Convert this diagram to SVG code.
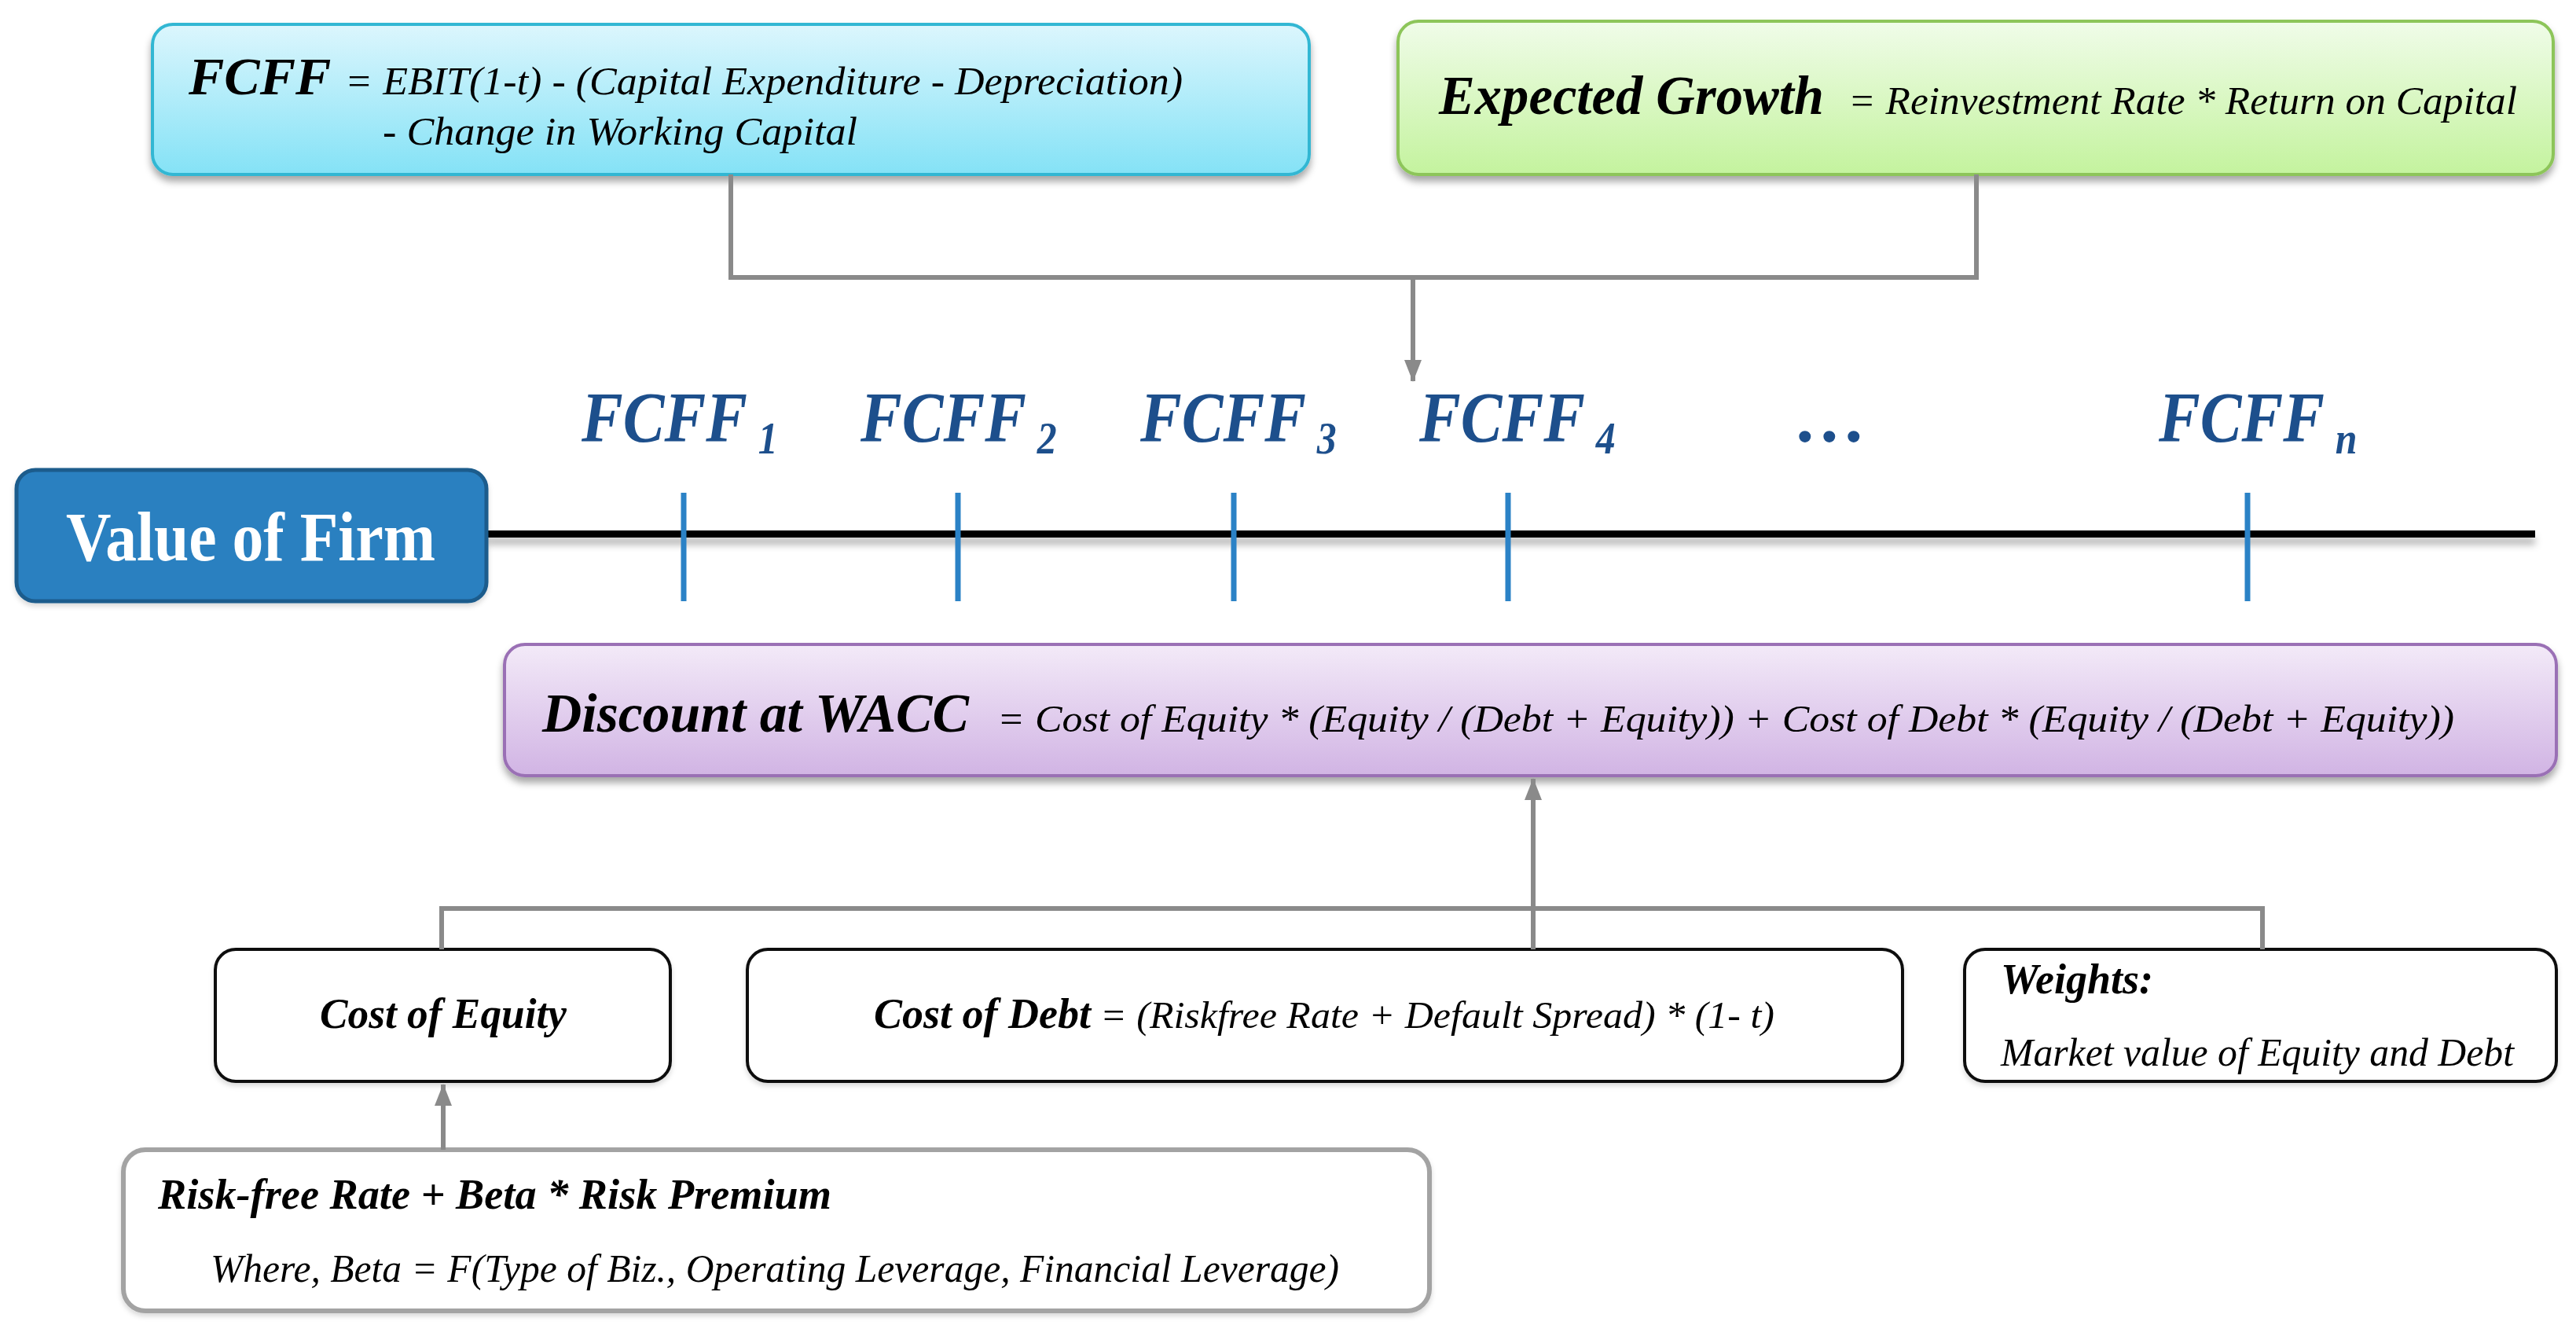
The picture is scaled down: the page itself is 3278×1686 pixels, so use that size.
<svg xmlns="http://www.w3.org/2000/svg" width="3278" height="1686" viewBox="0 0 3278 1686">
<defs>
<linearGradient id="gCyan" x1="0" y1="0" x2="0" y2="1"><stop offset="0" stop-color="#dcf6fd"/><stop offset="1" stop-color="#84e2f6"/></linearGradient>
<linearGradient id="gGreen" x1="0" y1="0" x2="0" y2="1"><stop offset="0" stop-color="#f0fce9"/><stop offset="1" stop-color="#c4f39e"/></linearGradient>
<linearGradient id="gPurple" x1="0" y1="0" x2="0" y2="1"><stop offset="0" stop-color="#f3eaf8"/><stop offset="1" stop-color="#d1b4e4"/></linearGradient>
<filter id="shadow" x="-5%" y="-20%" width="110%" height="150%"><feDropShadow dx="0" dy="7" stdDeviation="5" flood-color="#000" flood-opacity="0.35"/></filter>
<filter id="shadowS" x="-5%" y="-20%" width="110%" height="150%"><feDropShadow dx="0" dy="4" stdDeviation="3" flood-color="#000" flood-opacity="0.15"/></filter>
<filter id="lineShadow" filterUnits="userSpaceOnUse" x="600" y="660" width="2650" height="60"><feDropShadow dx="0" dy="9" stdDeviation="5" flood-color="#000" flood-opacity="0.3"/></filter>
<marker id="arrow" viewBox="0 0 28 22" refX="27" refY="11" markerWidth="28" markerHeight="22" markerUnits="userSpaceOnUse" orient="auto"><path d="M0,0 L28,11 L0,22 z" fill="#8a8a8a"/></marker>
<style>
.serif{font-family:"Liberation Serif","Times New Roman",serif;}
.bi{font-family:"Liberation Serif","Times New Roman",serif;font-weight:bold;font-style:italic;fill:#000;}
.it{font-family:"Liberation Serif","Times New Roman",serif;font-style:italic;fill:#000;}
.lbl{font-family:"Liberation Serif","Times New Roman",serif;font-weight:bold;font-style:italic;fill:#1d4f8c;font-size:92px;}
.sub{font-size:58px;}
.conn{fill:none;stroke:#8a8a8a;stroke-width:6;}
.tick{stroke:#2b82c6;stroke-width:7;}
.wbox{fill:#fff;stroke:#111;stroke-width:4;}
</style>
</defs>
<rect width="3278" height="1686" fill="#fff"/>

<g id="node-fcff">
<rect x="194" y="31" width="1472" height="191" rx="26" fill="url(#gCyan)" stroke="#31b7d3" stroke-width="4" filter="url(#shadow)"/>
<text class="bi" x="240" y="120" font-size="68">FCFF</text>
<text class="it" x="439" y="120" font-size="51" textLength="1066" lengthAdjust="spacingAndGlyphs">= EBIT(1-t)  - (Capital Expenditure - Depreciation)</text>
<text class="it" x="487" y="184" font-size="51" textLength="604" lengthAdjust="spacingAndGlyphs">- Change in Working Capital</text>
</g>

<g id="node-growth">
<rect x="1779" y="27" width="1470" height="195" rx="26" fill="url(#gGreen)" stroke="#8dc55a" stroke-width="4" filter="url(#shadow)"/>
<text class="bi" x="1831" y="145" font-size="70" textLength="490" lengthAdjust="spacingAndGlyphs">Expected Growth</text>
<text class="it" x="2352" y="145" font-size="51" textLength="851" lengthAdjust="spacingAndGlyphs">= Reinvestment Rate * Return on Capital</text>
</g>

<g id="timeline">
<rect x="619" y="675" width="2607" height="9" fill="#000" filter="url(#lineShadow)"/>
<line class="tick" x1="870" y1="627" x2="870" y2="765"/>
<line class="tick" x1="1219" y1="627" x2="1219" y2="765"/>
<line class="tick" x1="1570" y1="627" x2="1570" y2="765"/>
<line class="tick" x1="1919" y1="627" x2="1919" y2="765"/>
<line class="tick" x1="2860" y1="627" x2="2860" y2="765"/>
</g>

<g id="node-value">
<rect x="21" y="598" width="598" height="167" rx="24" fill="#2a80c0" stroke="#1c5b8c" stroke-width="5" filter="url(#shadowS)"/>
<text class="serif" x="84" y="713" font-size="88" font-weight="bold" fill="#fff" textLength="470" lengthAdjust="spacingAndGlyphs">Value of Firm</text>
</g>

<g id="labels">
<text class="lbl" transform="translate(740,562) scale(0.86,1)">FCFF<tspan class="sub" dx="16" dy="15">1</tspan></text>
<text class="lbl" transform="translate(1095,562) scale(0.86,1)">FCFF<tspan class="sub" dx="16" dy="15">2</tspan></text>
<text class="lbl" transform="translate(1451,562) scale(0.86,1)">FCFF<tspan class="sub" dx="16" dy="15">3</tspan></text>
<text class="lbl" transform="translate(1806,562) scale(0.86,1)">FCFF<tspan class="sub" dx="16" dy="15">4</tspan></text>
<text class="lbl" x="2285" y="562">…</text>
<text class="lbl" transform="translate(2747,562) scale(0.86,1)">FCFF<tspan class="sub" dx="16" dy="15">n</tspan></text>
</g>

<g id="node-wacc">
<rect x="642" y="820" width="2611" height="167" rx="26" fill="url(#gPurple)" stroke="#9a70b5" stroke-width="4" filter="url(#shadow)"/>
<text class="bi" x="690" y="931" font-size="70" textLength="543" lengthAdjust="spacingAndGlyphs">Discount at WACC</text>
<text class="it" x="1269" y="931" font-size="48" textLength="1854" lengthAdjust="spacingAndGlyphs">= Cost of Equity * (Equity / (Debt + Equity)) + Cost of Debt * (Equity / (Debt + Equity))</text>
</g>

<g id="node-equity">
<rect class="wbox" x="274" y="1208" width="579" height="168" rx="26" filter="url(#shadowS)"/>
<text class="bi" x="564" y="1308" font-size="54" text-anchor="middle" textLength="314" lengthAdjust="spacingAndGlyphs">Cost of Equity</text>
</g>

<g id="node-debt">
<rect class="wbox" x="951" y="1208" width="1470" height="168" rx="26" filter="url(#shadowS)"/>
<text class="bi" x="1112" y="1308" font-size="54" textLength="276" lengthAdjust="spacingAndGlyphs">Cost of Debt</text>
<text class="it" x="1400" y="1308" font-size="49" textLength="858" lengthAdjust="spacingAndGlyphs">= (Riskfree Rate + Default Spread) * (1- t)</text>
</g>

<g id="node-weights">
<rect class="wbox" x="2500" y="1208" width="753" height="168" rx="26" filter="url(#shadowS)"/>
<text class="bi" x="2546" y="1264" font-size="54">Weights:</text>
<text class="it" x="2546" y="1356" font-size="51" textLength="653" lengthAdjust="spacingAndGlyphs">Market value of Equity and Debt</text>
</g>

<g id="node-risk">
<rect x="157" y="1463" width="1662" height="205" rx="28" fill="#fff" stroke="#a3a3a3" stroke-width="6" filter="url(#shadowS)"/>
<text class="bi" x="201" y="1538" font-size="54" textLength="857" lengthAdjust="spacingAndGlyphs">Risk-free Rate + Beta * Risk Premium</text>
<text class="it" x="268" y="1631" font-size="50" textLength="1436" lengthAdjust="spacingAndGlyphs">Where, Beta = F(Type of Biz., Operating Leverage, Financial Leverage)</text>
</g>

<g id="connectors">
<path class="conn" d="M930,222 V353 H2515 V222"/>
<path class="conn" d="M1798,353 V485" marker-end="url(#arrow)"/>
<path class="conn" d="M562,1208 V1156 H2879 V1208"/>
<path class="conn" d="M1951,1208 V991" marker-end="url(#arrow)"/>
<path class="conn" d="M564,1463 V1380" marker-end="url(#arrow)"/>
</g>
</svg>
